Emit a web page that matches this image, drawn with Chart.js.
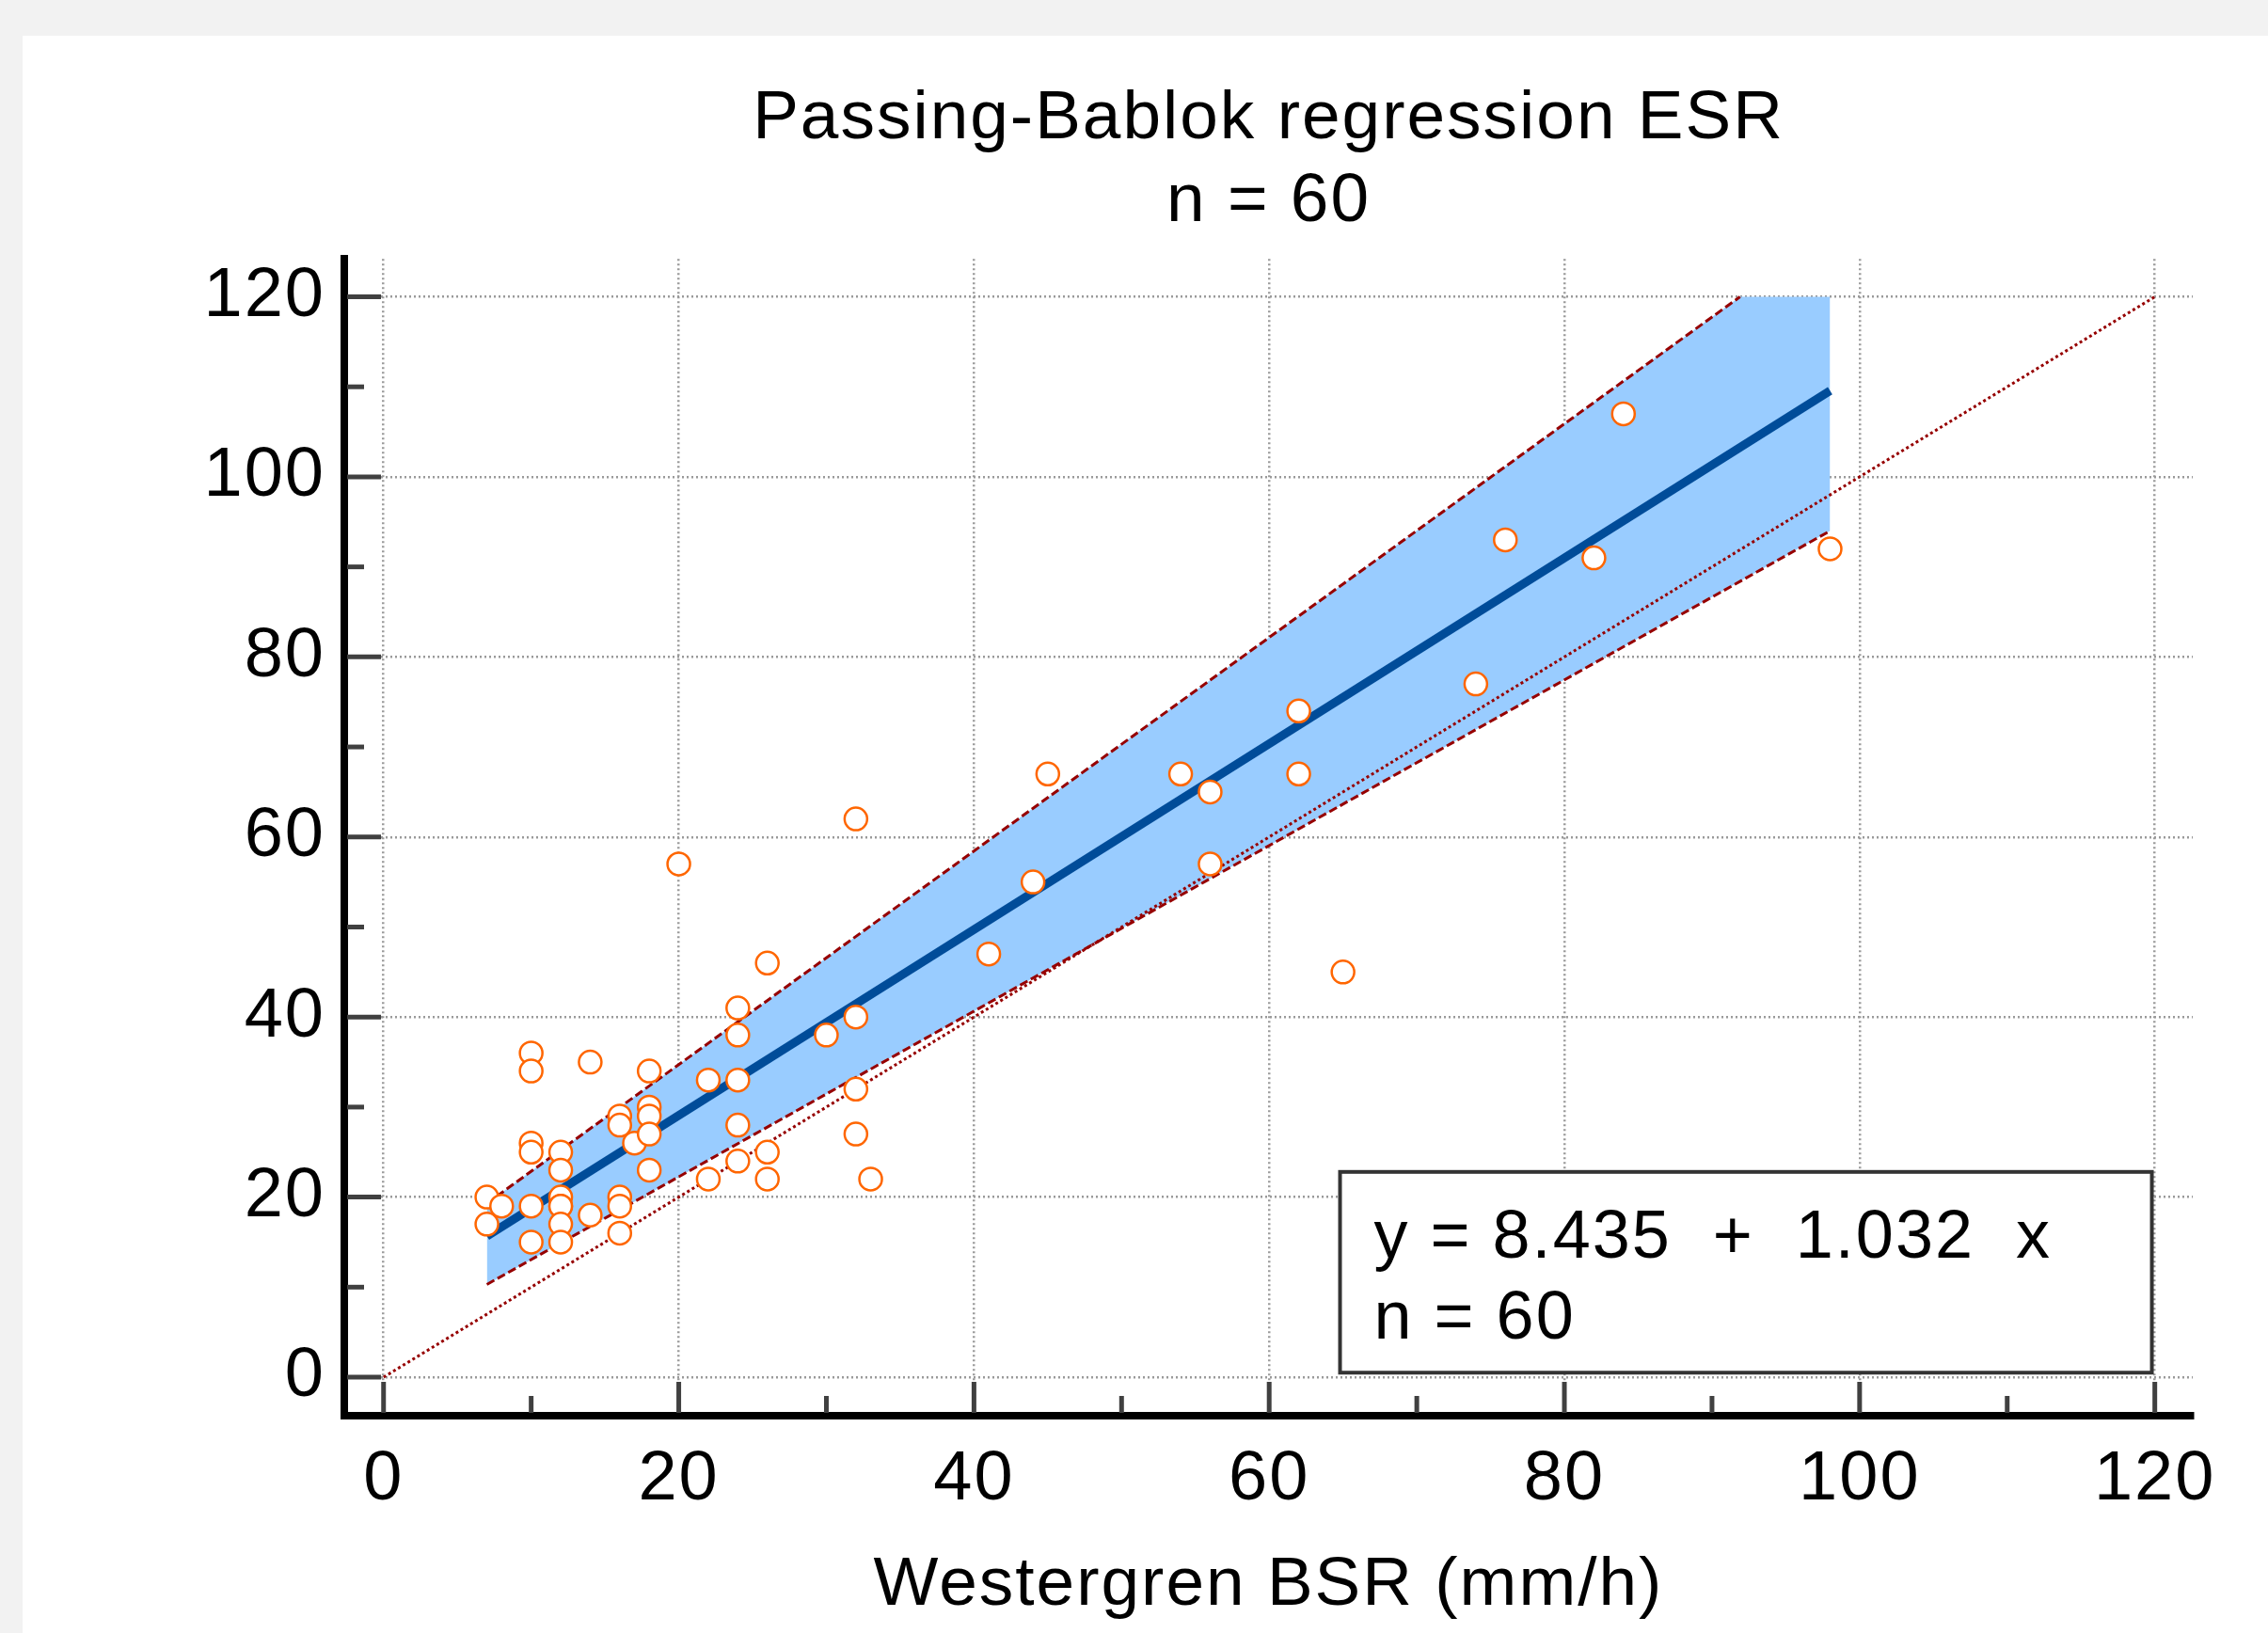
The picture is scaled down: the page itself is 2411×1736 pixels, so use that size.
<!DOCTYPE html>
<html>
<head>
<meta charset="utf-8">
<title>Passing-Bablok regression ESR</title>
<script src="https://cdn.jsdelivr.net/npm/chart.js@4.4.1/dist/chart.umd.min.js"></script>
<style>
  html, body { margin: 0; padding: 0; background: #f2f2f2; }
  #panel { position: absolute; left: 24px; top: 38px; width: 2387px; height: 1698px; background: #fff; }
  canvas { display: block; }
</style>
</head>
<body>
<div id="panel"><canvas id="pbChart" width="2387" height="1698"></canvas></div>
<script>
// paired measurements: Westergren BSR (x) against ESR (y), mm/h
const westergren = [7, 7, 8, 10, 10, 10, 10, 10, 10, 12, 12, 12, 12, 12, 12, 12, 14, 14, 16, 16,
                    16, 16, 16, 17, 18, 18, 18, 18, 18, 20, 22, 22, 24, 24, 24, 24, 24, 26, 26, 26,
                    30, 32, 32, 32, 32, 33, 41, 44, 45, 54, 56, 56, 62, 62, 65, 74, 76, 82, 84, 98];
const esr = [20, 17, 19, 36, 34, 26, 25, 19, 15, 25, 23, 20, 19, 19, 17, 15, 35, 18, 29, 28,
             20, 19, 16, 26, 34, 30, 29, 27, 23, 57, 33, 22, 41, 38, 33, 28, 24, 46, 25, 22,
             38, 62, 40, 32, 27, 22, 47, 55, 67, 67, 65, 57, 74, 67, 45, 77, 93, 91, 107, 92];

// regression line y = 8.435 + 1.032 x over the data range
const regX = [7, 98];
const regY = [15.66, 109.57];

// confidence band (upper bound is cut off at 120)
const ciUpperX = [7, 91.9, 98];
const ciUpperY = [19.3, 120, 120];
const ciLowerX = [7, 98];
const ciLowerY = [10.3, 94.0];

// line of identity
const identityX = [0, 120];
const identityY = [0, 120];

const xTicks = [0, 20, 40, 60, 80, 100, 120];
const xMinorTicks = [10, 30, 50, 70, 90, 110];
const yTicks = [0, 20, 40, 60, 80, 100, 120];
const yMinorTicks = [10, 30, 50, 70, 90, 110];

const titleLines = ['Passing-Bablok regression ESR', 'n = 60'];
const xTitle = 'Westergren BSR (mm/h)';
const equationLines = ['y = 8.435  +  1.032  x', 'n = 60'];

const toPoints = (xs, ys) => xs.map((v, i) => ({x: v, y: ys[i]}));

Chart.defaults.font.family = "'Liberation Sans', Arial, sans-serif";
Chart.defaults.color = '#000';

// slightly wider text, like the original renderer
const wideText = {
    id: 'wideText',
    beforeDraw(chart) {
        chart.ctx.letterSpacing = '2px';
    }
};

// inward tick marks, major and minor
const tickMarks = {
    id: 'tickMarks',
    beforeDatasetsDraw(chart) {
        const {ctx, chartArea, scales: {x, y}} = chart;
        ctx.save();
        ctx.strokeStyle = '#404040';
        ctx.lineWidth = 5;
        const xTick = (v, len) => {
            const px = x.getPixelForValue(v);
            ctx.beginPath();
            ctx.moveTo(px, chartArea.bottom - 3);
            ctx.lineTo(px, chartArea.bottom - len);
            ctx.stroke();
        };
        const yTick = (v, len) => {
            const py = y.getPixelForValue(v);
            ctx.beginPath();
            ctx.moveTo(chartArea.left + 3, py);
            ctx.lineTo(chartArea.left + len, py);
            ctx.stroke();
        };
        xTicks.forEach(v => xTick(v, 36));
        xMinorTicks.forEach(v => xTick(v, 21));
        yTicks.forEach(v => yTick(v, 39));
        yMinorTicks.forEach(v => yTick(v, 21));
        ctx.restore();
    }
};

// boxed equation, bottom right
const equationBox = {
    id: 'equationBox',
    afterDatasetsDraw(chart) {
        const {ctx, scales: {x, y}} = chart;
        const left = x.getPixelForValue(64.8);
        const right = x.getPixelForValue(119.8);
        const top = y.getPixelForValue(22.8);
        const bottom = y.getPixelForValue(0.5);
        ctx.save();
        ctx.fillStyle = '#fff';
        ctx.fillRect(left, top, right - left, bottom - top);
        ctx.strokeStyle = '#333';
        ctx.lineWidth = 4;
        ctx.strokeRect(left, top, right - left, bottom - top);
        ctx.fillStyle = '#000';
        ctx.font = "72px 'Liberation Sans', Arial, sans-serif";
        ctx.letterSpacing = '2px';
        ctx.textAlign = 'left';
        ctx.textBaseline = 'alphabetic';
        ctx.fillText(equationLines[0], left + 36, top + 91);
        ctx.fillText(equationLines[1], left + 36, top + 177);
        ctx.restore();
    }
};

const gridStyle = {color: '#9a9a9a', lineWidth: 2.5, drawTicks: false};
const borderStyle = {display: true, color: '#000', width: 8, dash: [2, 3]};

new Chart(document.getElementById('pbChart'), {
    type: 'scatter',
    data: {
        datasets: [
            {
                label: 'Observations',
                data: toPoints(westergren, esr),
                pointRadius: 12,
                pointBorderWidth: 2.5,
                pointBorderColor: '#ff6600',
                pointBackgroundColor: '#ffffff',
                showLine: false
            },
            {
                label: 'Regression',
                data: toPoints(regX, regY),
                showLine: true,
                borderColor: '#004c99',
                borderWidth: 9,
                pointRadius: 0
            },
            {
                label: 'Upper CI',
                data: toPoints(ciUpperX.slice(0, 2), ciUpperY.slice(0, 2)),
                showLine: true,
                borderColor: '#960000',
                borderWidth: 3,
                borderDash: [9, 4],
                pointRadius: 0
            },
            {
                label: 'Lower CI',
                data: toPoints(ciLowerX, ciLowerY),
                showLine: true,
                borderColor: '#960000',
                borderWidth: 3,
                borderDash: [9, 4],
                pointRadius: 0
            },
            {
                label: 'Identity',
                data: toPoints(identityX, identityY),
                showLine: true,
                borderColor: '#960000',
                borderWidth: 3,
                borderDash: [3, 3],
                pointRadius: 0
            },
            {
                label: 'CI band',
                data: toPoints(ciUpperX, ciUpperY),
                showLine: true,
                borderWidth: 0,
                borderColor: 'rgba(0,0,0,0)',
                pointRadius: 0,
                fill: {target: 3},
                backgroundColor: '#99ccff'
            }
        ]
    },
    options: {
        responsive: false,
        animation: false,
        devicePixelRatio: 1,
        events: [],
        layout: {padding: {left: 0, right: 80, top: 0, bottom: 0}},
        plugins: {
            legend: {display: false},
            tooltip: {enabled: false},
            filler: {drawTime: 'beforeDatasetsDraw'},
            title: {
                display: true,
                text: titleLines,
                fullSize: false,
                color: '#000',
                font: {size: 73, weight: 'normal', lineHeight: 1.2},
                padding: {top: 45, bottom: 17}
            }
        },
        scales: {
            x: {
                type: 'linear',
                min: -2.66,
                max: 122.57,
                afterBuildTicks: s => { s.ticks = xTicks.map(v => ({value: v})); },
                afterFit: s => { s.height = 231; },
                grid: gridStyle,
                border: borderStyle,
                ticks: {color: '#000', font: {size: 74}, padding: 24, maxRotation: 0, autoSkip: false},
                title: {
                    display: true,
                    text: xTitle,
                    color: '#000',
                    font: {size: 73, lineHeight: 1.2},
                    padding: {top: 0, bottom: 6}
                }
            },
            y: {
                type: 'linear',
                min: -4.28,
                max: 124.21,
                afterBuildTicks: s => { s.ticks = yTicks.map(v => ({value: v})); },
                afterFit: s => { s.width = 342; },
                grid: gridStyle,
                border: borderStyle,
                ticks: {color: '#000', font: {size: 74}, padding: 20, autoSkip: false}
            }
        }
    },
    plugins: [wideText, tickMarks, equationBox]
});
</script>
</body>
</html>
